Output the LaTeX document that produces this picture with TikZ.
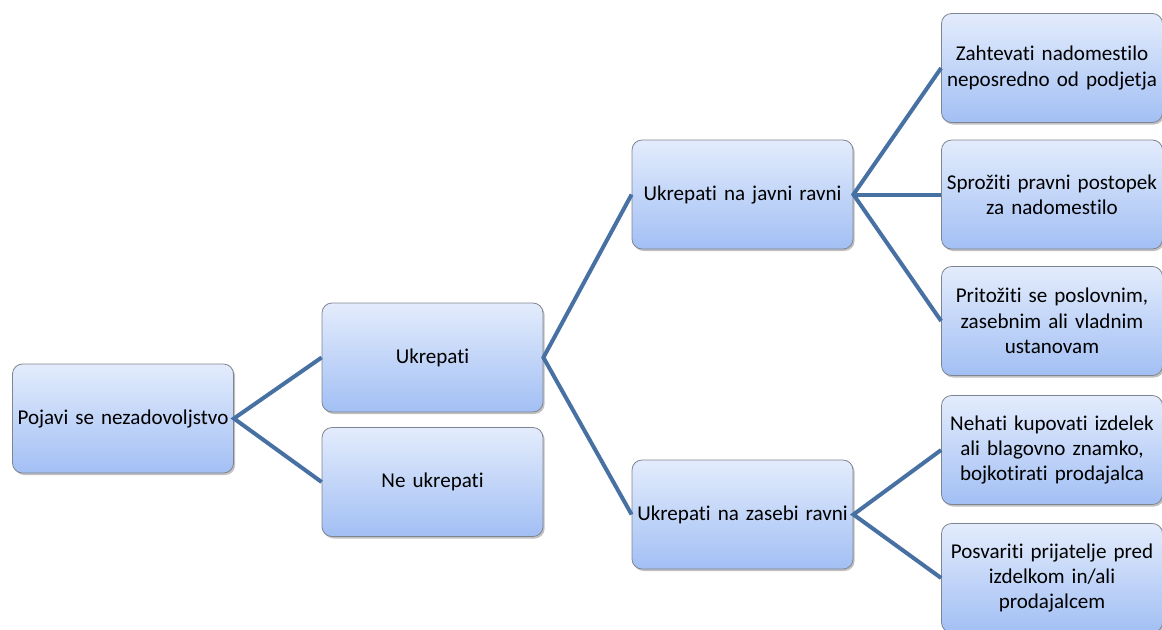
\documentclass[tikz,border=0pt]{standalone}
\usepackage{fontspec}
\setmainfont{Carlito}[Ligatures=NoCommon]
\usetikzlibrary{shadows}
\definecolor{boxtop}{HTML}{E3ECFC}
\definecolor{boxbot}{HTML}{A2BFF4}
\definecolor{boxline}{HTML}{7F8590}
\definecolor{linkcol}{HTML}{4770A3}
\tikzset{
  box/.style={rectangle, rounded corners=7.5pt, draw=boxline, line width=0.6pt,
    top color=boxtop, bottom color=boxbot,
    minimum width=165.75pt, minimum height=81.75pt, text width=160pt, align=center,
    inner sep=1pt, font=\fontsize{15.8}{19}\selectfont,
    drop shadow={shadow xshift=1.2pt, shadow yshift=-1.5pt, opacity=0.35, fill=black!70}},
  link/.style={draw=linkcol, line width=3pt}
}
\begin{document}
\begin{tikzpicture}[x=0.75pt,y=-0.75pt]
\useasboundingbox (0,0) rectangle (1162,629);
\node[box] (root) at (123,418.5) {Pojavi se nezadovoljstvo};
\node[box] (ukr) at (432.5,357.5) {Ukrepati};
\node[box] (ne) at (432.5,482) {Ne ukrepati};
\node[box] (javni) at (742.5,194.5) {Ukrepati na javni ravni};
\node[box] (zasebi) at (742.5,514.5) {Ukrepati na zasebi ravni};
\node[box] (z1) at (1052,68) {Zahtevati nadomestilo\\neposredno od podjetja};
\node[box] (z2) at (1052,194.5) {Sprožiti pravni postopek\\za nadomestilo};
\node[box] (z3) at (1052,321) {Pritožiti se poslovnim,\\zasebnim ali vladnim\\ustanovam};
\node[box] (z4) at (1052,450) {Nehati kupovati izdelek\\ali blagovno znamko,\\bojkotirati prodajalca};
\node[box] (z5) at (1052,578) {Posvariti prijatelje pred\\izdelkom in/ali\\prodajalcem};
\draw[link] (ukr.west) -- (root.east) -- (ne.west);
\draw[link] (javni.west) -- (ukr.east) -- (zasebi.west);
\draw[link] (z1.west) -- (javni.east) -- (z3.west);
\draw[link] (javni.east) -- (z2.west);
\draw[link] (z4.west) -- (zasebi.east) -- (z5.west);
\end{tikzpicture}
\end{document}
